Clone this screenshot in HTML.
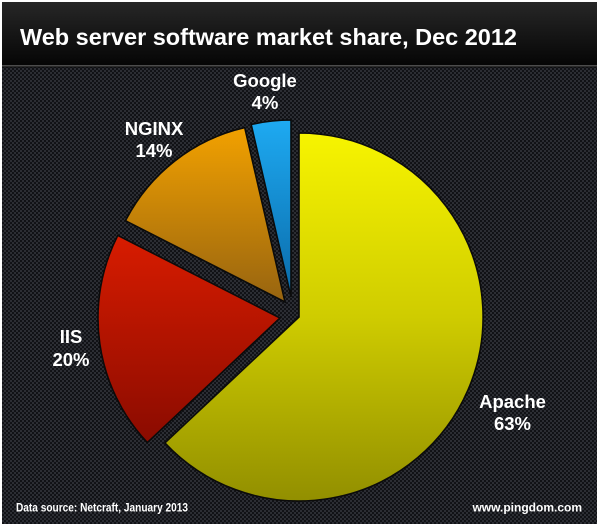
<!DOCTYPE html>
<html>
<head>
<meta charset="utf-8">
<style>
  html, body { margin:0; padding:0; background:#ffffff; }
  body { width:600px; height:527px; overflow:hidden; }
  svg { display:block; }
  text { font-family: "Liberation Sans", Arial, sans-serif; font-weight:bold; }
</style>
</head>
<body>
<svg width="600" height="527" viewBox="0 0 600 527" xmlns="http://www.w3.org/2000/svg">
  <defs>
    <pattern id="mesh" x="0" y="0" width="4" height="4" patternUnits="userSpaceOnUse">
      <rect width="4" height="4" fill="#2c2e34"/>
      <circle cx="1" cy="1" r="1.1" fill="#0e0f13"/>
      <circle cx="3" cy="3" r="1.1" fill="#0e0f13"/>
    </pattern>
    <linearGradient id="hdr" x1="0" y1="0" x2="0" y2="1">
      <stop offset="0" stop-color="#272727"/>
      <stop offset="1" stop-color="#050505"/>
    </linearGradient>
    <linearGradient id="gApache" x1="0" y1="0" x2="0" y2="1">
      <stop offset="0" stop-color="#f7f400"/>
      <stop offset="0.5" stop-color="#cfcc00"/>
      <stop offset="1" stop-color="#928f00"/>
    </linearGradient>
    <linearGradient id="gIIS" x1="0" y1="0" x2="0" y2="1">
      <stop offset="0" stop-color="#d81c00"/>
      <stop offset="1" stop-color="#8a0b00"/>
    </linearGradient>
    <linearGradient id="gNginx" x1="0" y1="0" x2="0" y2="1">
      <stop offset="0" stop-color="#f2a100"/>
      <stop offset="1" stop-color="#976410"/>
    </linearGradient>
    <linearGradient id="gGoogle" x1="0" y1="0" x2="0" y2="1">
      <stop offset="0" stop-color="#1eaaf2"/>
      <stop offset="1" stop-color="#0a6aa8"/>
    </linearGradient>
  </defs>

  <!-- card background -->
  <rect x="2" y="2" width="595" height="522" fill="url(#mesh)"/>
  <!-- header -->
  <rect x="2" y="2" width="595" height="64" fill="url(#hdr)"/>
  <rect x="2" y="65" width="595" height="1.5" fill="#4c4c4c"/>
  <rect x="2" y="66.5" width="595" height="1" fill="#0a0a0a"/>

  <!-- title -->
  <text x="20" y="45" font-size="23.5" fill="#ffffff" textLength="497" lengthAdjust="spacingAndGlyphs">Web server software market share, Dec 2012</text>

  <!-- slices -->
  <g stroke="#0b0b0b" stroke-width="1.6" stroke-linejoin="miter">
    <path d="M299,317 L299,133 A184,184 0 1,1 164.9,442.9 Z" fill="url(#gApache)"/>
    <path d="M280,318 L147.3,442.6 A182,182 0 0,1 117.8,235.4 Z" fill="url(#gIIS)"/>
    <path d="M285,302 L125.5,220.7 A179,179 0 0,1 244.7,127.6 Z" fill="url(#gNginx)"/>
    <path d="M291,297 L251.2,124.5 A177,177 0 0,1 291,120 Z" fill="url(#gGoogle)"/>
  </g>

  <!-- labels -->
  <g font-size="18.5" fill="#ffffff" text-anchor="middle">
    <text x="265" y="87">Google</text>
    <text x="265" y="109">4%</text>
    <text x="154" y="135">NGINX</text>
    <text x="154" y="157">14%</text>
    <text x="71" y="343">IIS</text>
    <text x="71" y="366">20%</text>
    <text x="512.5" y="408">Apache</text>
    <text x="512.5" y="430">63%</text>
  </g>

  <!-- footer -->
  <text x="16" y="511.5" font-size="11.5" fill="#ffffff" textLength="172" lengthAdjust="spacingAndGlyphs">Data source: Netcraft, January 2013</text>
  <text x="582" y="511.5" font-size="12" fill="#ffffff" text-anchor="end">www.pingdom.com</text>
</svg>
</body>
</html>
